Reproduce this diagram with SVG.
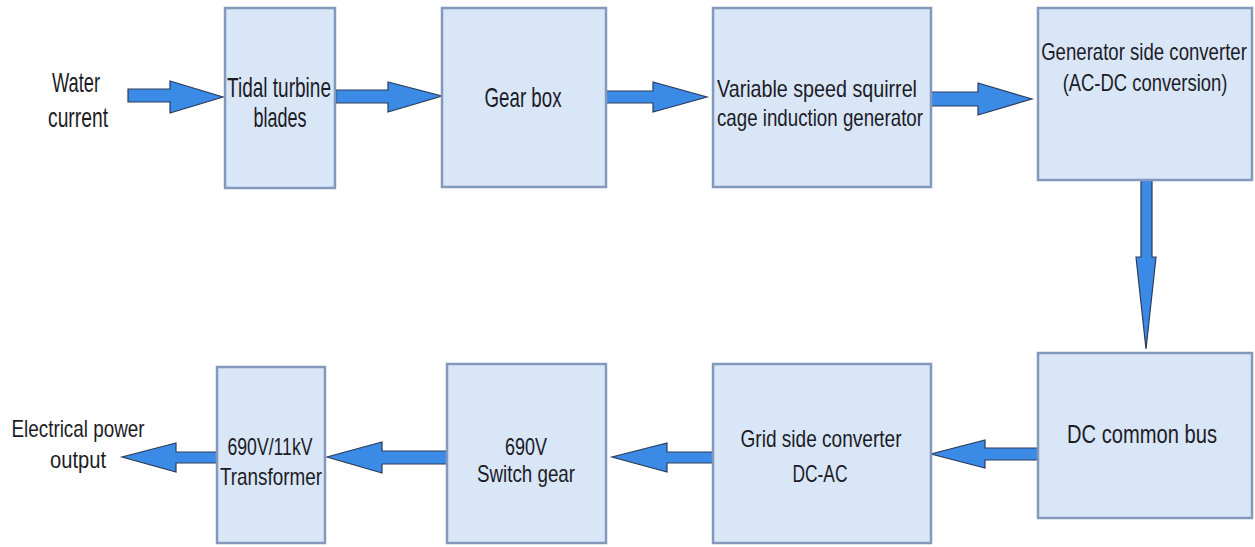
<svg xmlns="http://www.w3.org/2000/svg" width="1255" height="547" viewBox="0 0 1255 547">
<style>
.box{fill:#d9e6f8;stroke:#8299bc;stroke-width:2.5}
.arr{fill:#3b8ae6;stroke:#2c3c5c;stroke-width:1.2;stroke-linejoin:miter}
text{font-family:"Liberation Sans",Arial,sans-serif;fill:#1c1c26;text-anchor:middle}
</style>
<rect width="1255" height="547" fill="#ffffff"/>
<g id="connectors">
<polygon class="arr" points="128,89 170,89 170,81 223,97 170,113 170,102 128,102"/>
<polygon class="arr" points="336,90 388,90 388,82 442,96 388,112 388,103 336,103"/>
<polygon class="arr" points="606,91 653,91 653,82 707,97 653,112 653,103 606,103"/>
<polygon class="arr" points="931,92 978,92 978,83 1032,99 978,115 978,106 931,106"/>
<polygon class="arr" points="1141,180 1152,180 1152,257 1156,257 1146,349 1136,257 1141,257"/>
<polygon class="arr" points="1038,448 985,448 985,440 931,454 985,468 985,460 1038,460"/>
<polygon class="arr" points="713,452 667,452 667,443 612,457 667,472 667,463 713,463"/>
<polygon class="arr" points="447,451 382,451 382,442 327,457 382,473 382,464 447,464"/>
<polygon class="arr" points="217,452 176,452 176,443 122,457 176,472 176,463 217,463"/>
</g>
<g id="water-current" font-size="28">
<text x="76" y="92" textLength="48" lengthAdjust="spacingAndGlyphs">Water</text>
<text x="78" y="127" textLength="60" lengthAdjust="spacingAndGlyphs">current</text>
</g>
<g id="tidal-turbine" font-size="28">
<rect class="box" x="225" y="8" width="110" height="180"/>
<text x="279" y="97" textLength="104" lengthAdjust="spacingAndGlyphs">Tidal turbine</text>
<text x="280" y="127" textLength="53" lengthAdjust="spacingAndGlyphs">blades</text>
</g>
<g id="gear-box" font-size="28">
<rect class="box" x="442" y="8" width="164" height="179"/>
<text x="523" y="107" textLength="77" lengthAdjust="spacingAndGlyphs">Gear box</text>
</g>
<g id="generator" font-size="24">
<rect class="box" x="713" y="8" width="218" height="179"/>
<text x="817" y="97" textLength="200" lengthAdjust="spacingAndGlyphs">Variable speed squirrel</text>
<text x="820" y="126" textLength="206" lengthAdjust="spacingAndGlyphs">cage induction generator</text>
</g>
<g id="gen-side-converter" font-size="24">
<rect class="box" x="1038" y="8" width="214" height="172"/>
<text transform="translate(1144,60) scale(0.775,1)" x="0" y="0">Generator side converter</text>
<text transform="translate(1145,91) scale(0.768,1)" x="0" y="0">(AC-DC conversion)</text>
</g>
<g id="dc-bus" font-size="26">
<rect class="box" x="1038" y="353" width="214" height="165"/>
<text transform="translate(1142,443) scale(0.775,1)" x="0" y="0">DC common bus</text>
</g>
<g id="grid-side-converter" font-size="24">
<rect class="box" x="713" y="364" width="218" height="179"/>
<text x="821" y="447" textLength="161" lengthAdjust="spacingAndGlyphs">Grid side converter</text>
<text x="820" y="482" textLength="55" lengthAdjust="spacingAndGlyphs">DC-AC</text>
</g>
<g id="switch-gear" font-size="24">
<rect class="box" x="447" y="364" width="159" height="179"/>
<text x="526" y="455" textLength="42" lengthAdjust="spacingAndGlyphs">690V</text>
<text x="526" y="482" textLength="98" lengthAdjust="spacingAndGlyphs">Switch gear</text>
</g>
<g id="transformer" font-size="24">
<rect class="box" x="217" y="367" width="108" height="176"/>
<text x="270" y="455" textLength="85" lengthAdjust="spacingAndGlyphs">690V/11kV</text>
<text x="271" y="485" textLength="102" lengthAdjust="spacingAndGlyphs">Transformer</text>
</g>
<g id="power-output" font-size="24">
<text x="78" y="437" textLength="133" lengthAdjust="spacingAndGlyphs">Electrical power</text>
<text x="78" y="468" textLength="56" lengthAdjust="spacingAndGlyphs">output</text>
</g>
</svg>
